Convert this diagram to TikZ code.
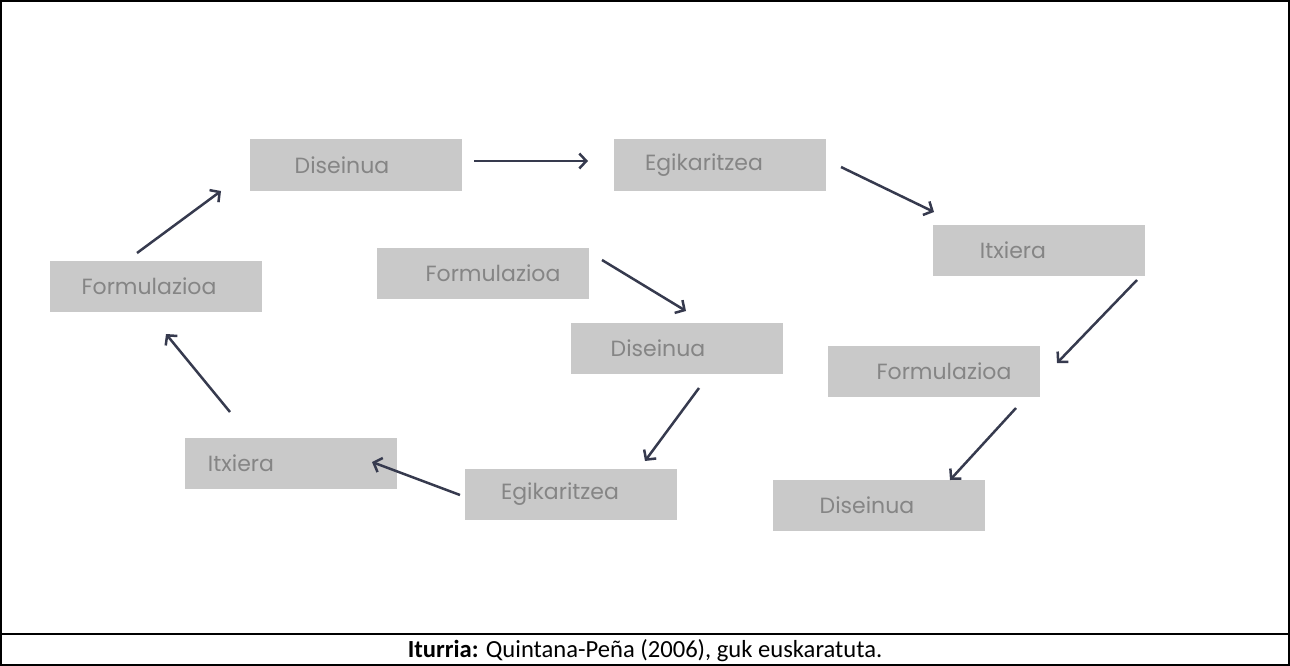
\documentclass[tikz,border=0pt]{standalone}
\usepackage{fontspec}
\setmainfont{Carlito}
\newfontfamily\boxfont{Poppins}
\usetikzlibrary{arrows.meta}
\definecolor{boxgray}{HTML}{C9C9C9}
\definecolor{txtgray}{HTML}{858585}
\definecolor{arrowcol}{HTML}{363A4E}
\newcommand{\shl}[2]{#2\hspace*{#1pt}}
\newcommand{\shr}[2]{\hspace*{#1pt}#2}
\tikzset{
  stepbox/.style={fill=boxgray, draw=none, minimum width=212pt, minimum height=51pt, inner sep=0pt, font=\boxfont\fontsize{22}{24}\selectfont, text=txtgray},
  flow/.style={draw=arrowcol, line width=2.5pt, -{Straight Barb[length=7pt,width=15pt,line width=2.5pt]}}
}
\begin{document}
\begin{tikzpicture}[x=1pt,y=-1pt]
\useasboundingbox (0,0) rectangle (1290,666);
\draw[line width=2pt] (1,1) rectangle (1289,665);
\draw[line width=2pt] (1,634) -- (1289,634);
\node[font=\fontsize{24.6}{28}\selectfont] (cap) at (645,651) {\textbf{Iturria:} Quintana-Peña (2006), guk euskaratuta.};

\node[stepbox] (d1) at (356,165) {\shl{28}{Diseinua}};
\node[stepbox] (e1) at (720,165) {\shl{32}{Egikaritzea}};
\node[stepbox] (i1) at (1039,250) {\shl{52}{Itxiera}};
\node[stepbox] (f1) at (156,286) {\shl{14}{Formulazioa}};
\node[stepbox] (f2) at (483,273) {\shr{20}{Formulazioa}};
\node[stepbox] (d2) at (677,348) {\shl{38}{Diseinua}};
\node[stepbox] (f3) at (934,371) {\shr{20}{Formulazioa}};
\node[stepbox] (i2) at (291,463) {\shl{100}{Itxiera}};
\node[stepbox] (e2) at (571,494) {\shl{22}{Egikaritzea}};
\node[stepbox] (d3) at (879,505) {\shl{24}{Diseinua}};

\coordinate (a1s) at (137,253); \coordinate (a1e) at (221,191);
\coordinate (a2s) at (474,161); \coordinate (a2e) at (588,161);
\coordinate (a3s) at (841,167); \coordinate (a3e) at (934,212);
\coordinate (a4s) at (1137,280); \coordinate (a4e) at (1057,363);
\coordinate (a5s) at (1016,408); \coordinate (a5e) at (950,480);
\coordinate (a6s) at (602,260); \coordinate (a6e) at (686,311);
\coordinate (a7s) at (699,388); \coordinate (a7e) at (645,461);
\coordinate (a8s) at (460,495); \coordinate (a8e) at (372,462);
\coordinate (a9s) at (230,412); \coordinate (a9e) at (166,334);

\draw[flow] (a1s) -- (a1e);
\draw[flow] (a2s) -- (a2e);
\draw[flow] (a3s) -- (a3e);
\draw[flow] (a4s) -- (a4e);
\draw[flow] (a5s) -- (a5e);
\draw[flow] (a6s) -- (a6e);
\draw[flow] (a7s) -- (a7e);
\draw[flow] (a8s) -- (a8e);
\draw[flow] (a9s) -- (a9e);
\end{tikzpicture}
\end{document}
